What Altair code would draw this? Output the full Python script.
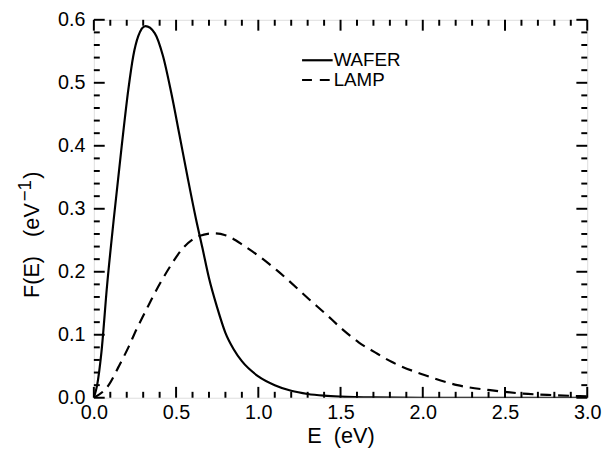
import altair as alt
import pandas as pd

# ---- data ----
wafer_E = [0.0, 0.02, 0.046, 0.08, 0.12, 0.17, 0.21, 0.24, 0.27, 0.314, 0.37, 0.42,
           0.47, 0.52, 0.57, 0.62, 0.66, 0.70, 0.75, 0.80, 0.85, 0.90, 1.0, 1.1, 1.2,
           1.3, 1.4, 1.5, 1.7, 2.0, 2.5, 3.0]
wafer_F = [0.0, 0.02, 0.072, 0.177, 0.281, 0.401, 0.49, 0.543, 0.574, 0.590, 0.579, 0.543,
           0.485, 0.418, 0.350, 0.285, 0.238, 0.190, 0.143, 0.103, 0.077, 0.058, 0.034, 0.020,
           0.011, 0.006, 0.0033, 0.0018, 0.0005, 0.0, 0.0, 0.0]

lamp_E = [0.0, 0.09, 0.15, 0.21, 0.26, 0.31, 0.36, 0.41, 0.47, 0.54, 0.61, 0.67, 0.73,
          0.80, 0.92, 1.11, 1.31, 1.41, 1.51, 1.61, 1.71, 1.81, 2.01, 2.21, 2.41, 2.61,
          2.81, 3.0]
lamp_F = [0.0, 0.020, 0.049, 0.080, 0.109, 0.135, 0.161, 0.185, 0.211, 0.237, 0.253, 0.259,
          0.261, 0.258, 0.240, 0.203, 0.156, 0.133, 0.109, 0.088, 0.072, 0.057, 0.036, 0.020,
          0.012, 0.0066, 0.004, 0.002]

x_major = [0.0, 0.5, 1.0, 1.5, 2.0, 2.5, 3.0]
x_minor = [0.1, 0.2, 0.3, 0.4, 0.6, 0.7, 0.8, 0.9, 1.1, 1.2, 1.3, 1.4, 1.6, 1.7, 1.8, 1.9,
           2.1, 2.2, 2.3, 2.4, 2.6, 2.7, 2.8, 2.9]
y_major = [0.0, 0.1, 0.2, 0.3, 0.4, 0.5, 0.6]
y_minor = [0.02, 0.04, 0.06, 0.08, 0.12, 0.14, 0.16, 0.18, 0.22, 0.24, 0.26, 0.28,
           0.32, 0.34, 0.36, 0.38, 0.42, 0.44, 0.46, 0.48, 0.52, 0.54, 0.56, 0.58]

series_names = ["WAFER", "LAMP"]
x_title = "E \u00a0(eV)"
y_title_parts = ["F(E)", "(eV", "\u22121", ")"]

W, H = 500, 383
FONT = "Liberation Sans"

xscale = alt.Scale(domain=[0, 3], nice=False, zero=False)
yscale = alt.Scale(domain=[0, 0.6], nice=False, zero=False)

x_axis = alt.Axis(values=x_major, format=".1f", title=x_title, ticks=False,
                  domain=False, grid=False, labelFontSize=20, labelFont=FONT,
                  labelColor="black", labelPadding=5, labelFlush=False,
                  titleFontSize=22, titleFont=FONT,
                  titleFontWeight="normal", titleColor="black", titleY=38,
                  titleBaseline="middle", titleX=W / 2)
y_axis = alt.Axis(values=y_major, format=".1f", title=None, ticks=False,
                  domain=False, grid=False, labelFontSize=20, labelFont=FONT,
                  labelColor="black", labelPadding=9, labelFlush=False)

wdf = pd.DataFrame({"E": wafer_E, "F": wafer_F})
ldf = pd.DataFrame({"E": lamp_E, "F": lamp_F})

def X(f="E"):
    return alt.X(f"{f}:Q", scale=xscale, axis=x_axis)

def Y(f="F"):
    return alt.Y(f"{f}:Q", scale=yscale, axis=y_axis)

wafer = alt.Chart(wdf).mark_line(color="black", strokeWidth=2.2, interpolate="monotone",
                                 clip=True).encode(x=X(), y=Y())
lamp = alt.Chart(ldf).mark_line(color="black", strokeWidth=2.2, interpolate="monotone",
                                strokeDash=[11, 7], clip=True).encode(x=X(), y=Y())

def xticks(vals, length):
    d = pd.DataFrame({"E": vals})
    b = alt.Chart(d).mark_rule(color="black", strokeWidth=2)
    return [b.encode(x=X(), y=alt.value(H), y2=alt.value(H - length)),
            b.encode(x=X(), y=alt.value(0), y2=alt.value(length))]

def yticks(vals, length):
    d = pd.DataFrame({"F": vals})
    b = alt.Chart(d).mark_rule(color="black", strokeWidth=2)
    return [b.encode(y=Y(), x=alt.value(0), x2=alt.value(length)),
            b.encode(y=Y(), x=alt.value(W), x2=alt.value(W - length))]

ticks = xticks(x_major, 11) + xticks(x_minor, 6) + yticks(y_major, 11) + yticks(y_minor, 6)

# y-axis title, composed so the exponent can be raised
tdf = pd.DataFrame({"t": y_title_parts})
def ytitle_part(idx, xpos, ypos, size):
    return alt.Chart(tdf).transform_filter(alt.datum.t == y_title_parts[idx]).mark_text(
        align="left", baseline="middle", angle=270, fontSize=size, font=FONT,
        color="black").encode(x=alt.value(xpos), y=alt.value(ypos), text="t:N")

ytitle = [ytitle_part(0, -63, 282, 22),
          ytitle_part(1, -63, 220, 22),
          ytitle_part(2, -70, 184, 19),
          ytitle_part(3, -63, 161, 22)]

# legend
leg = pd.DataFrame({"name": series_names})
leg_solid = alt.Chart(leg).transform_filter(alt.datum.name == "WAFER").mark_rule(
    color="black", strokeWidth=2.2).encode(x=alt.value(211), x2=alt.value(242), y=alt.value(41))
leg_dash = alt.Chart(leg).transform_filter(alt.datum.name == "LAMP").mark_rule(
    color="black", strokeWidth=2.2, strokeDash=[10, 8]).encode(
    x=alt.value(211), x2=alt.value(241), y=alt.value(61))
leg_text1 = alt.Chart(leg).transform_filter(alt.datum.name == "WAFER").mark_text(
    align="left", baseline="middle", fontSize=19, font=FONT, color="black").encode(
    x=alt.value(243), y=alt.value(41), text="name:N")
leg_text2 = alt.Chart(leg).transform_filter(alt.datum.name == "LAMP").mark_text(
    align="left", baseline="middle", fontSize=19, font=FONT, color="black").encode(
    x=alt.value(243), y=alt.value(61), text="name:N")

chart = alt.layer(wafer, lamp, *ticks, *ytitle, leg_solid, leg_dash, leg_text1,
                  leg_text2).properties(
    width=W, height=H,
    autosize=alt.AutoSizeParams(type="none"),
    padding={"left": 87, "top": 9, "right": 18, "bottom": 50},
).configure_view(stroke="black", strokeWidth=2.2).configure(background="white")

chart.save("out.html", embed_options={"renderer": "svg", "actions": False})
